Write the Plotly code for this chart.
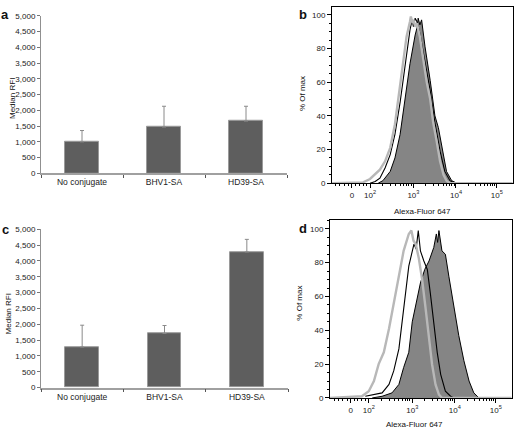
import plotly.graph_objects as go

W, H = 515, 434

# ---------------- bar chart data ----------------
categories = ["No conjugate", "BHV1-SA", "HD39-SA"]
a_values = [1000, 1470, 1660]
a_errors = [360, 660, 470]
c_values = [1280, 1710, 4280]
c_errors = [690, 250, 400]

# ---------------- histogram data (x in log10 display units, y in % of max) ----------------
b_gray_x = [1.12, 1.84, 2.00, 2.23, 2.35, 2.47, 2.58, 2.70, 2.77, 2.85, 2.93, 2.95, 2.99, 3.01, 3.05, 3.09, 3.16, 3.24, 3.32, 3.40, 3.47, 3.55, 3.63, 3.71, 3.78, 3.86, 5.32]
b_gray_y = [0, 0.5, 2.5, 8, 13, 21, 35, 58, 73, 87, 96, 99, 95, 97, 93, 95, 87, 73, 60, 50, 36, 25, 13, 5, 1.5, 0, 0]
b_open_x = [2.00, 2.12, 2.23, 2.35, 2.47, 2.58, 2.70, 2.81, 2.93, 2.98, 3.01, 3.05, 3.09, 3.16, 3.28, 3.40, 3.51, 3.63, 3.74, 3.86, 3.98]
b_open_y = [0, 1, 3, 9, 17, 29, 48, 70, 91, 97, 93, 98, 96, 89, 73, 55, 36, 19, 7, 1.5, 0]
b_fill_x = [2.19, 2.30, 2.47, 2.58, 2.70, 2.81, 2.93, 3.05, 3.10, 3.12, 3.16, 3.20, 3.28, 3.40, 3.51, 3.59, 3.67, 3.78, 3.90, 4.02]
b_fill_y = [0, 1.5, 7, 15, 29, 48, 71, 88, 93, 98, 94, 97, 81, 61, 40, 33, 21, 7, 1.5, 0]

d_gray_x = [1.10, 1.84, 2.00, 2.12, 2.23, 2.35, 2.47, 2.58, 2.70, 2.81, 2.93, 2.99, 3.04, 3.09, 3.16, 3.24, 3.32, 3.40, 3.47, 3.55, 3.63, 3.70, 5.32]
d_gray_y = [0, 1, 4, 10, 20, 27, 41, 56, 72, 87, 97, 99, 93, 91, 83, 70, 53, 35, 20, 8, 2, 0, 0]
d_open_x = [1.92, 2.16, 2.31, 2.47, 2.58, 2.70, 2.81, 2.93, 3.05, 3.10, 3.15, 3.20, 3.28, 3.36, 3.43, 3.51, 3.59, 3.67, 3.78, 3.90, 3.98]
d_open_y = [1, 2, 3, 8, 16, 29, 51, 78, 91, 88, 99, 87, 81, 76, 62, 45, 27, 14, 4, 1, 0]
d_fill_x = [2.08, 2.31, 2.54, 2.70, 2.81, 2.93, 3.01, 3.12, 3.20, 3.30, 3.40, 3.51, 3.57, 3.60, 3.63, 3.70, 3.78, 3.86, 3.98, 4.09, 4.21, 4.33, 4.44, 4.56]
d_fill_y = [0, 1, 3, 8, 18, 27, 45, 58, 68, 76, 81, 89, 97, 92, 99, 87, 85, 72, 54, 37, 22, 10, 3, 0]

hist_tickvals = [1.58, 2.0, 3.01, 4.0, 4.95]
hist_ticktext = ["0", "10<sup>2</sup>", "10<sup>3</sup>", "10<sup>4</sup>", "10<sup>5</sup>"]
hist_minor = [1.2, 1.3, 1.4, 1.5, 1.66, 1.75, 1.84, 1.92]
for d in (2, 3, 4):
    for off in [0.301, 0.477, 0.602, 0.699, 0.778, 0.845, 0.903, 0.954]:
        hist_minor.append(round(d + off * (0.95 if d == 4 else 1.0), 3))

FONT = "Arial, Liberation Sans, sans-serif"
BAR_FILL = "#5e5e5e"
BAR_EDGE = "#9a9a9a"
ERR_COL = "#8a8a8a"

fig = go.Figure()

def add_bars(values, errors, xa, ya):
    fig.add_trace(go.Bar(
        x=categories, y=values, xaxis=xa, yaxis=ya, width=0.41,
        marker=dict(color=BAR_FILL, line=dict(color=BAR_EDGE, width=1)),
        error_y=dict(type="data", array=errors, arrayminus=[0] * len(errors),
                     symmetric=False, color=ERR_COL, thickness=1, width=2),
        showlegend=False,
    ))

add_bars(a_values, a_errors, "x", "y")
add_bars(c_values, c_errors, "x3", "y3")

def add_hist(gx, gy, ox, oy, fx, fy, xa, ya):
    fig.add_trace(go.Scatter(x=fx, y=fy, xaxis=xa, yaxis=ya, mode="lines",
                             fill="tozeroy", fillcolor="#858585",
                             line=dict(color="black", width=1), showlegend=False))
    fig.add_trace(go.Scatter(x=ox, y=oy, xaxis=xa, yaxis=ya, mode="lines",
                             line=dict(color="black", width=1.1), showlegend=False))
    fig.add_trace(go.Scatter(x=gx, y=gy, xaxis=xa, yaxis=ya, mode="lines",
                             line=dict(color="#b8b8b8", width=2.4), showlegend=False))

add_hist(b_gray_x, b_gray_y, b_open_x, b_open_y, b_fill_x, b_fill_y, "x2", "y2")
add_hist(d_gray_x, d_gray_y, d_open_x, d_open_y, d_fill_x, d_fill_y, "x4", "y4")

tickfont = dict(family=FONT, size=8, color="#222")

bar_x = dict(type="category", range=[-0.5, 2.5], showline=True, linecolor="#a0a0a0",
             linewidth=1.5, ticks="outside", tickson="boundaries", ticklen=3,
             tickcolor="#555", showgrid=False, tickfont=dict(family=FONT, size=8.5, color="#222"),
             fixedrange=True)
bar_y = dict(range=[0, 5000], tickvals=[0, 500, 1000, 1500, 2000, 2500, 3000, 3500, 4000, 4500, 5000],
             ticktext=["0", "500", "1,000", "1,500", "2,000", "2,500", "3,000", "3,500", "4,000", "4,500", "5,000"],
             showline=True, linecolor="#909090", linewidth=1, ticks="outside", ticklen=3,
             tickcolor="#777", showgrid=False, zeroline=False, tickfont=tickfont)

hist_x = dict(range=[1.116, 5.319], tickvals=hist_tickvals, ticktext=hist_ticktext,
              showline=True, mirror=True, linecolor="black", linewidth=1,
              ticks="outside", ticklen=4, tickcolor="black", showgrid=False, zeroline=False,
              tickfont=dict(family=FONT, size=8, color="#222"),
              minor=dict(tickvals=hist_minor, ticks="outside", ticklen=2, tickcolor="black"))
hist_y = dict(tickvals=[0, 20, 40, 60, 80, 100], showline=True, mirror=True,
              linecolor="black", linewidth=1, ticks="outside", ticklen=4, tickcolor="black",
              showgrid=False, zeroline=False, tickfont=tickfont,
              minor=dict(dtick=5, ticks="outside", ticklen=2, tickcolor="black"))

def px(xp):
    return xp / W

def py(yp):
    return 1 - yp / H

fig.update_layout(
    width=W, height=H, margin=dict(l=0, r=0, t=0, b=0),
    paper_bgcolor="white", plot_bgcolor="white", bargap=0,
    xaxis=dict(bar_x, domain=[px(41), px(287)], anchor="y"),
    yaxis=dict(bar_y, domain=[py(173), py(12)], anchor="x"),
    xaxis3=dict(bar_x, domain=[px(41), px(288)], anchor="y3"),
    yaxis3=dict(bar_y, domain=[py(391.7), py(230)], anchor="x3"),
    xaxis2=dict(hist_x, domain=[px(332), px(512.7)], anchor="y2"),
    yaxis2=dict(hist_y, range=[0, 104.5], domain=[py(183), py(3.3)], anchor="x2"),
    xaxis4=dict(hist_x, range=[1.10, 5.32], domain=[px(330), px(511.7)], anchor="y4"),
    yaxis4=dict(hist_y, range=[0, 105], domain=[py(402.3), py(221)], anchor="x4"),
)

ann = []
def text(t, xp, yp, size=8, bold=False, angle=0):
    ann.append(dict(text=("<b>%s</b>" % t) if bold else t, x=px(xp), y=py(yp),
                    xref="paper", yref="paper", showarrow=False, textangle=angle,
                    xanchor="center", yanchor="middle",
                    font=dict(family=FONT, size=size, color="#111")))

text("a", 5, 11, size=13, bold=True)
text("c", 5, 230, size=13, bold=True)
text("b", 303, 11, size=13, bold=True)
text("d", 303, 229, size=13, bold=True)
text("Median RFI", 13, 97, angle=-90)
text("Median RFI", 8, 317, angle=-90)
text("% Of max", 302, 92, angle=-90)
text("% Of max", 300, 306, angle=-90)
text("Alexa-Fluor 647", 422, 212)
text("Alexa-Fluor 647", 414, 429)
fig.update_layout(annotations=ann)

fig.write_html("out.html", config={"displayModeBar": False},
               post_script="document.body.style.margin='0';document.body.style.overflow='hidden';")
